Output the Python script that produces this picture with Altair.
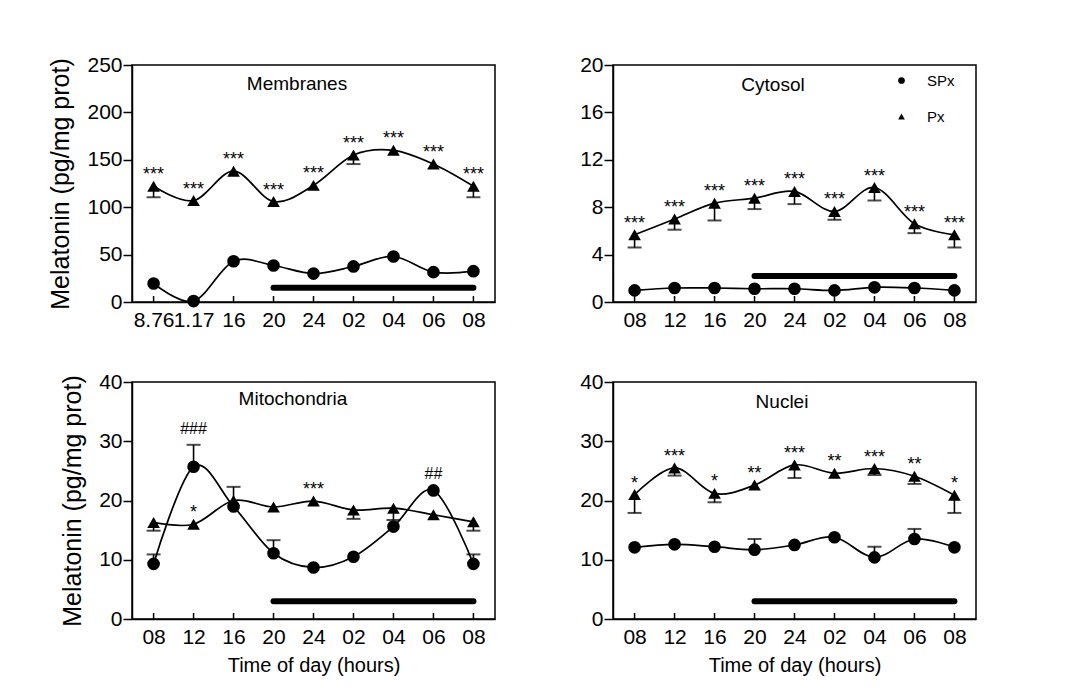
import json
import altair as alt
import pandas as pd

FONT = "Liberation Sans"
W, H = 363, 237

TIME_LABELS = ["08", "12", "16", "20", "24", "02", "04", "06", "08"]
MEMBRANE_TIME_LABELS = ["8.76", "1.17", "16", "20", "24", "02", "04", "06", "08"]
GROUPS = ["SPx", "Px"]
NIGHT_START, NIGHT_END = 3, 8  # 20 h to 08 h

# Membranes
mem_spx = [19.5, 1.0, 43.0, 38.5, 30.0, 37.5, 48.0, 31.5, 32.5]
mem_spx_hi = [None] * 9
mem_px = [122, 107, 138, 106, 123, 155, 160, 145.5, 122]
mem_px_lo = [110.5, None, None, None, None, 145.5, None, None, 110.5]
mem_px_marks = ["***"] * 9
mem_dark = 15

# Cytosol
cyt_spx = [0.98, 1.18, 1.18, 1.12, 1.12, 0.98, 1.24, 1.18, 0.98]
cyt_spx_hi = [None] * 9
cyt_px = [5.67, 7.0, 8.34, 8.76, 9.33, 7.64, 9.66, 6.6, 5.67]
cyt_px_lo = [4.6, 6.1, 6.88, 7.84, 8.26, 6.94, 8.57, 5.81, 4.6]
cyt_px_marks = ["***"] * 9
cyt_dark = 2.2

# Mitochondria
mit_spx = [9.3, 25.7, 19.0, 11.1, 8.7, 10.5, 15.6, 21.7, 9.3]
mit_spx_hi = [10.9, 29.4, 22.3, 13.3, None, None, None, None, 10.9]
mit_px = [16.3, 16.0, 20.0, 18.9, 19.9, 18.4, 18.7, 17.6, 16.4]
mit_px_lo = [14.9, None, None, None, None, 16.9, 16.7, None, 14.9]
mit_px_marks = [None, "*", None, None, "***", None, None, None, None]
mit_spx_marks = [None, "###", None, None, None, None, None, "##", None]
mit_dark = 3.0

# Nuclei
nuc_spx = [12.1, 12.6, 12.2, 11.7, 12.5, 13.8, 10.4, 13.5, 12.1]
nuc_spx_hi = [None, None, None, 13.5, None, None, 12.2, 15.2, None]
nuc_px = [21.0, 25.5, 21.2, 22.6, 26.0, 24.6, 25.4, 24.1, 20.9]
nuc_px_lo = [17.9, 24.2, 19.7, None, 23.8, None, 24.3, 22.8, 17.9]
nuc_px_marks = ["*", "***", "*", "**", "***", "**", "***", "**", "*"]
nuc_dark = 3.0

shape_legend = alt.Legend(
    title=None, orient="none", legendX=762, legendY=8,
    symbolSize=45, symbolFillColor="black", symbolStrokeColor="black",
    symbolStrokeWidth=0, labelFont=FONT, labelFontSize=15, labelColor="black",
    labelOffset=18, rowPadding=20, padding=0, offset=0,
)


def panel(name, labels, spx, spx_hi, px, px_lo, ymax, ystep, dark,
          px_marks, spx_marks=None, title_pos=(165, 10), ytitle=True, xtitle=False):
    idx = list(range(len(labels)))
    pts = pd.DataFrame(
        [{"idx": i, "value": v, "group": "SPx"} for i, v in zip(idx, spx)]
        + [{"idx": i, "value": v, "group": "Px"} for i, v in zip(idx, px)]
    )
    errs = pd.DataFrame(
        [{"idx": i, "value": v, "end": e} for i, v, e in zip(idx, spx, spx_hi) if e is not None]
        + [{"idx": i, "value": v, "end": e} for i, v, e in zip(idx, px, px_lo) if e is not None],
        columns=["idx", "value", "end"],
    )
    caps = errs.assign(value=errs["end"])
    # significance marks sit above the Px triangles, or above the SPx circles / their error bars
    px_notes = pd.DataFrame(
        [{"idx": i, "value": px[i], "text": t} for i, t in zip(idx, px_marks) if t],
        columns=["idx", "value", "text"],
    )
    spx_notes = pd.DataFrame(
        [{"idx": i, "value": spx_hi[i] if spx_hi[i] is not None else spx[i], "text": t}
         for i, t in zip(idx, spx_marks or [None] * len(idx)) if t],
        columns=["idx", "value", "text"],
    )
    night = pd.DataFrame([{"x0": NIGHT_START, "x1": NIGHT_END, "value": dark}])
    ticks = pd.DataFrame({"idx": idx})
    heading = pd.DataFrame({"name": [name]})

    expr = json.dumps(labels) + "[datum.value]"
    x_axis = alt.Axis(
        values=idx, labelExpr=expr, ticks=False, tickSize=0, grid=False,
        labelPadding=7, labelFontSize=21, labelOverlap=False, labelFlush=False,
        title="Time of day (hours)" if xtitle else None,
        titleFontSize=20, titlePadding=8,
    )
    y_axis = alt.Axis(
        values=list(range(0, ymax + 1, ystep)), tickSize=9, tickWidth=1.5,
        labelPadding=1, labelFontSize=21, grid=False,
        title="Melatonin (pg/mg prot)" if ytitle else None,
        titleFontSize=25, titlePadding=13,
    )
    xs = alt.Scale(domain=[-0.54, 8.54], nice=False, zero=False)
    ys = alt.Scale(domain=[0, ymax], nice=False, zero=False)
    X = alt.X("idx:Q", scale=xs, axis=x_axis)
    Y = alt.Y("value:Q", scale=ys, axis=y_axis)

    lines = alt.Chart(pts).mark_line(
        interpolate="cardinal", color="black", strokeWidth=1.7, clip=True
    ).encode(x=X, y=Y, detail="group:N")
    stems = alt.Chart(errs).mark_rule(color="black", strokeWidth=1.6).encode(
        x=X, y=Y, y2="end:Q")
    capmarks = alt.Chart(caps).mark_tick(
        orient="horizontal", color="black", size=14, thickness=2
    ).encode(x=X, y=Y)
    points = alt.Chart(pts).mark_point(
        filled=True, size=160, color="black", opacity=1
    ).encode(
        x=X, y=Y,
        shape=alt.Shape("group:N", scale=alt.Scale(domain=GROUPS, range=["circle", "triangle-up"]),
                        legend=shape_legend),
    )
    px_text = alt.Chart(px_notes).mark_text(
        font=FONT, fontSize=18, baseline="alphabetic", dy=-6, color="black"
    ).encode(x=X, y=Y, text="text:N")
    spx_text = alt.Chart(spx_notes).mark_text(
        font=FONT, fontSize=16, baseline="alphabetic", dy=-11, color="black"
    ).encode(x=X, y=Y, text="text:N")
    bar = alt.Chart(night).mark_rule(
        color="black", strokeWidth=6, strokeCap="round"
    ).encode(x=alt.X("x0:Q", scale=xs, axis=x_axis), x2="x1:Q", y=Y)
    inner_ticks = alt.Chart(ticks).mark_rule(color="black", strokeWidth=1.5).encode(
        x=X, y=alt.value(H), y2=alt.value(H - 6))
    title = alt.Chart(heading).mark_text(
        font=FONT, fontSize=19, align="center", baseline="top", color="black"
    ).encode(text="name:N", x=alt.value(title_pos[0]), y=alt.value(title_pos[1]))

    layers = [lines, stems, capmarks, points, px_text]
    if len(spx_notes):
        layers.append(spx_text)
    layers += [bar, inner_ticks, title]
    return alt.layer(*layers).properties(width=W, height=H)


membranes = panel("Membranes", MEMBRANE_TIME_LABELS, mem_spx, mem_spx_hi, mem_px, mem_px_lo,
                  250, 50, mem_dark, mem_px_marks, title_pos=(165, 10), ytitle=True)
cytosol = panel("Cytosol", TIME_LABELS, cyt_spx, cyt_spx_hi, cyt_px, cyt_px_lo,
                20, 4, cyt_dark, cyt_px_marks, title_pos=(160, 11), ytitle=False)
mito = panel("Mitochondria", TIME_LABELS, mit_spx, mit_spx_hi, mit_px, mit_px_lo,
             40, 10, mit_dark, mit_px_marks, mit_spx_marks, title_pos=(161, 8),
             ytitle=True, xtitle=True)
nuclei = panel("Nuclei", TIME_LABELS, nuc_spx, nuc_spx_hi, nuc_px, nuc_px_lo,
               40, 10, nuc_dark, nuc_px_marks, title_pos=(169, 11),
               ytitle=False, xtitle=True)

chart = alt.concat(
    membranes, cytosol, mito, nuclei, columns=2,
    spacing={"row": 39, "column": 82},
).properties(
    padding={"left": 48, "top": 53, "right": 5, "bottom": 5},
).configure(font=FONT, background="white").configure_view(
    stroke="black", strokeWidth=1.5
).configure_axis(
    labelColor="black", titleColor="black", domainColor="black", domainWidth=1.5,
    tickColor="black", labelFont=FONT, titleFont=FONT, titleFontWeight="normal",
).configure_legend(
    labelFont=FONT, labelFontSize=15, labelColor="black",
)

chart.save("out.html", embed_options={"renderer": "svg", "actions": False})
